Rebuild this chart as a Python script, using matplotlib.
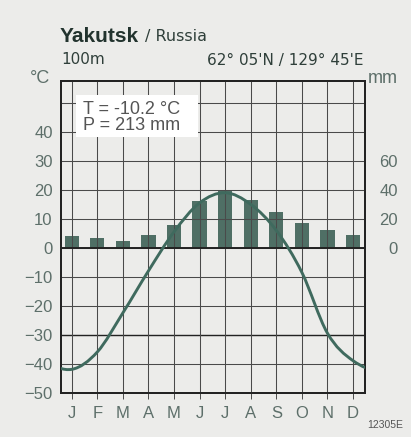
import matplotlib.pyplot as plt
from matplotlib.path import Path
from matplotlib.patches import PathPatch, Rectangle

plt.rcParams["font.family"] = ["Liberation Sans", "DejaVu Sans"]

months = ["J", "F", "M", "A", "M", "J", "J", "A", "S", "O", "N", "D"]
temperature = [-42.0, -36.0, -22.5, -8.0, 5.5, 15.5, 19.0, 15.0, 6.0, -8.5, -29.5, -39.0]
precipitation = [8, 7, 5, 9, 16, 32, 40, 33, 25, 17, 12, 9]
temp_ticks = [-50, -40, -30, -20, -10, 0, 10, 20, 30, 40]
precip_ticks = [0, 20, 40, 60]

station = "Yakutsk"
country = "/ Russia"
altitude = "100m"
coords = "62° 05'N / 129° 45'E"
mean_temp = "T = -10.2 °C"
total_precip = "P = 213 mm"

LINE = "#3f6a5e"
BAR = "#4f6f65"
LABEL = "#5d6f6a"
GRID = "#4a4a4a"
WIDE = ["DejaVu Sans"]

W, H = 411, 437
fig = plt.figure(figsize=(W / 100, H / 100), dpi=100)
fig.patch.set_facecolor("#ececea")

ax = fig.add_axes([61 / W, 1 - 392.5 / H, 303.5 / W, 311.5 / H])
ax2 = ax.twinx()
ax.set_zorder(ax2.get_zorder() + 1)
ax.patch.set_visible(False)
ax2.set_facecolor("white")

x = list(range(12))
ax.set_xlim(-0.42, 11.45)
ax.set_ylim(-50, 57.6)
ax2.set_ylim(-100, 115.2)

# precipitation bars (right axis)
ax2.bar(x, precipitation, width=0.56, color=BAR, zorder=2)

# grid
for t in range(-50, 60, 10):
    ax.axhline(t, color=GRID, lw=0.75, zorder=1)
ax.axhline(-30, color="#222222", lw=1.0, zorder=1)
ax.axhline(0, color="#222222", lw=1.4, zorder=3)
for m in x:
    ax.axvline(m, color=GRID, lw=0.75, zorder=1)

# text box covering the grid
ax.add_patch(Rectangle((0.049, 38.3), 0.402, 14.5, transform=ax.get_yaxis_transform(),
                       facecolor="white", edgecolor="none", zorder=4))
ax.text(83 / W, 1 - 114 / H, mean_temp, transform=fig.transFigure, fontsize=13,
        color="#555555", va="baseline", zorder=5)
ax.text(83 / W, 1 - 130.5 / H, total_precip, transform=fig.transFigure, fontsize=13,
        color="#555555", va="baseline", zorder=5)

# smooth temperature curve (periodic Catmull-Rom through the monthly values)
px = [-2, -1] + x + [12, 13]
py = temperature[-2:] + temperature + temperature[:2]
verts = [(px[1], py[1])]
codes = [Path.MOVETO]
for i in range(1, len(px) - 2):
    c1 = (px[i] + (px[i + 1] - px[i - 1]) / 6, py[i] + (py[i + 1] - py[i - 1]) / 6)
    c2 = (px[i + 1] - (px[i + 2] - px[i]) / 6, py[i + 1] - (py[i + 2] - py[i]) / 6)
    verts += [c1, c2, (px[i + 1], py[i + 1])]
    codes += [Path.CURVE4] * 3
ax.add_patch(PathPatch(Path(verts, codes), facecolor="none", edgecolor=LINE,
                       lw=2.1, zorder=6, clip_on=True))

# axes styling
for a in (ax, ax2):
    for s in a.spines.values():
        s.set_linewidth(1.3)
        s.set_color("#222222")

ax.set_xticks(x)
ax.set_xticklabels(months, fontsize=12, color=LABEL)
ax.tick_params(axis="x", direction="out", length=4, width=0.7, color=GRID, pad=6)
ax.set_yticks(temp_ticks)
ax.set_yticklabels([str(t).replace("-", "\u2212") for t in temp_ticks], fontsize=12, color=LABEL)
ax.tick_params(axis="y", length=0, pad=6)

ax2.set_yticks(precip_ticks)
ax2.set_yticklabels([str(p) for p in precip_ticks], fontsize=12, color=LABEL)
ax2.tick_params(axis="y", length=0, pad=24)
for lab in ax2.get_yticklabels():
    lab.set_horizontalalignment("right")

# header
fig.text(60 / W, 1 - 41.5 / H, station, fontsize=15, fontweight="bold", color="#22332e", va="baseline")
fig.text(145 / W, 1 - 41.5 / H, country, fontsize=11.5, family=WIDE, color="#2f3f3a", va="baseline")
fig.text(61 / W, 1 - 64.5 / H, altitude, fontsize=11, family=WIDE, color="#2f3f3a", va="baseline")
fig.text(363 / W, 1 - 64.5 / H, coords, fontsize=11, family=WIDE, color="#2f3f3a", va="baseline", ha="right")
fig.text(50 / W, 1 - 83 / H, "°C", fontsize=13, color=LABEL, va="baseline", ha="right")
fig.text(368 / W, 1 - 83 / H, "mm", fontsize=13, color=LABEL, va="baseline")
fig.text(403 / W, 1 - 428 / H, "12305E", fontsize=7.5, color="#555555", va="baseline", ha="right")

fig.savefig("out.png", dpi=100, facecolor=fig.get_facecolor())
